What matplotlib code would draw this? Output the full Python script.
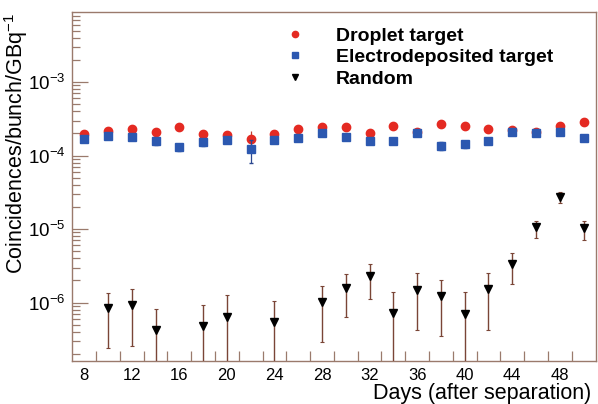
import numpy as np
import matplotlib
matplotlib.use("Agg")
import matplotlib.pyplot as plt
from matplotlib.ticker import FixedLocator, LogLocator, LogFormatterMathtext, NullFormatter
from matplotlib.lines import Line2D

plt.rcParams['font.family'] = ['Liberation Sans', 'DejaVu Sans']
plt.rcParams['mathtext.fontset'] = 'custom'
plt.rcParams['mathtext.rm'] = 'Liberation Sans'
plt.rcParams['mathtext.it'] = 'Liberation Sans:italic'
plt.rcParams['mathtext.bf'] = 'Liberation Sans:bold'
plt.rcParams['axes.unicode_minus'] = False

# ---------------- data ----------------
days = [8, 10, 12, 14, 16, 18, 20, 22, 24, 26, 28, 30, 32, 34, 36, 38, 40, 42, 44, 46, 48, 50]

droplet = [1.98e-4, 2.15e-4, 2.27e-4, 2.11e-4, 2.48e-4, 1.96e-4, 1.88e-4, 1.70e-4,
           1.98e-4, 2.32e-4, 2.45e-4, 2.42e-4, 2.02e-4, 2.53e-4, 2.12e-4, 2.67e-4,
           2.53e-4, 2.32e-4, 2.22e-4, 2.08e-4, 2.53e-4, 2.82e-4]
droplet_err = [0.10e-4, 0.10e-4, 0.10e-4, 0.10e-4, 0.10e-4, 0.10e-4, 0.20e-4, 0.43e-4,
               0.10e-4, 0.10e-4, 0.10e-4, 0.10e-4, 0.10e-4, 0.10e-4, 0.10e-4, 0.10e-4,
               0.10e-4, 0.10e-4, 0.10e-4, 0.10e-4, 0.10e-4, 0.10e-4]

electro = [1.68e-4, 1.84e-4, 1.80e-4, 1.56e-4, 1.30e-4, 1.52e-4, 1.62e-4, 1.22e-4,
           1.62e-4, 1.72e-4, 2.02e-4, 1.78e-4, 1.57e-4, 1.57e-4, 2.05e-4, 1.36e-4,
           1.42e-4, 1.59e-4, 2.11e-4, 2.05e-4, 2.09e-4, 1.74e-4]
electro_err = [0.15e-4, 0.15e-4, 0.15e-4, 0.15e-4, 0.15e-4, 0.15e-4, 0.15e-4, 0.42e-4,
               0.15e-4, 0.15e-4, 0.15e-4, 0.15e-4, 0.15e-4, 0.15e-4, 0.15e-4, 0.15e-4,
               0.15e-4, 0.15e-4, 0.15e-4, 0.15e-4, 0.15e-4, 0.15e-4]

rand_days = [10, 12, 14, 18, 20, 24, 28, 30, 32, 34, 36, 38, 40, 42, 44, 46, 48, 50]
rand_val = [0.84e-6, 0.93e-6, 0.43e-6, 0.48e-6, 0.64e-6, 0.545e-6, 1.02e-6, 1.60e-6,
            2.31e-6, 0.72e-6, 1.49e-6, 1.23e-6, 0.70e-6, 1.52e-6, 3.37e-6, 10.6e-6,
            27.0e-6, 10.3e-6]
rand_hi = [1.37e-6, 1.53e-6, 0.83e-6, 0.92e-6, 1.25e-6, 1.05e-6, 1.69e-6, 2.46e-6,
           3.37e-6, 1.38e-6, 2.51e-6, 2.04e-6, 1.38e-6, 2.49e-6, 4.71e-6, 13.0e-6,
           31.6e-6, 12.7e-6]
rand_lo = [0.238e-6, 0.26e-6, 1e-9, 1e-9, 1e-9, 1e-9, 0.29e-6, 0.64e-6,
           1.11e-6, 1e-9, 0.42e-6, 0.35e-6, 1e-9, 0.43e-6, 1.80e-6, 7.5e-6,
           22.7e-6, 7.2e-6]

xtick_labels = [8, 12, 16, 20, 24, 28, 32, 36, 40, 44, 48]
xminor_ticks = list(range(9, 50, 2))

# ---------------- figure ----------------
frame_col = '#9a7a6c'
fig = plt.figure(figsize=(5.98, 4.04), dpi=100)
ax = fig.add_axes([72.3 / 598, 1 - 360.7 / 404, (595.5 - 72.3) / 598, (360.7 - 12.3) / 404])
ax.set_yscale('log')

red = '#e42a22'
blue = '#2c58b0'

rv = np.array(rand_val)
yerr_r = [rv - np.array(rand_lo), np.array(rand_hi) - rv]
ax.errorbar(rand_days, rand_val, yerr=yerr_r, fmt='v', color='black', ms=5.5,
            ecolor='#7a4536', elinewidth=1.0, capsize=1.5, capthick=0.8, zorder=3)
ax.errorbar(days, droplet, yerr=droplet_err, fmt='o', color=red, ms=6,
            ecolor='#c04030', elinewidth=0.9, capsize=0, zorder=3)
ax.errorbar(days, electro, yerr=electro_err, fmt='s', color=blue, ms=5.6,
            ecolor='#2c4890', elinewidth=0.9, capsize=1.2, zorder=4)

ax.set_xlim(7, 51)
ax.set_ylim(1.62e-7, 8.9e-3)

# x ticks: labels at multiples of 4 (no marks), marks at odd days
ax.xaxis.set_major_locator(FixedLocator(xtick_labels))
ax.set_xticklabels([str(v) for v in xtick_labels])
ax.xaxis.set_minor_locator(FixedLocator(xminor_ticks))
ax.tick_params(axis='x', which='major', length=0, pad=5, labelsize=12)
ax.tick_params(axis='x', which='minor', direction='in', length=7.2, width=0.9,
               color=frame_col, top=False)

ax.yaxis.set_major_locator(LogLocator(base=10, numticks=20))
ax.yaxis.set_major_formatter(LogFormatterMathtext())
ax.yaxis.set_minor_locator(LogLocator(base=10, subs=np.arange(2, 10), numticks=20))
ax.yaxis.set_minor_formatter(NullFormatter())
ax.tick_params(axis='y', which='major', direction='in', length=11.5, width=0.9,
               color=frame_col, labelsize=13.5, pad=5, right=False)
ax.tick_params(axis='y', which='minor', direction='in', length=5.8, width=0.9,
               color=frame_col, right=False)

for s in ax.spines.values():
    s.set_color(frame_col)
    s.set_linewidth(1.0)

ax.set_ylabel(r'Coincidences/bunch/GBq$^{-1}$', fontsize=15.5)
ax.yaxis.label.set_horizontalalignment('right')
ax.yaxis.set_label_coords(-0.080, 1.0)

ax.set_xlabel('Days (after separation)', fontsize=15.5)
ax.xaxis.label.set_horizontalalignment('right')
ax.xaxis.label.set_verticalalignment('top')
ax.xaxis.set_label_coords(0.992, -0.063)

handles = [
    Line2D([], [], ls='none', marker='o', color=red, ms=4.5),
    Line2D([], [], ls='none', marker='s', color=blue, ms=4.2),
    Line2D([], [], ls='none', marker='v', color='black', ms=4.5),
]
labels = ['Droplet target', 'Electrodeposited target', 'Random']
leg = fig.legend(handles, labels, loc='upper left',
                 bbox_to_anchor=(285 / 598, 1 - 27 / 404), frameon=False,
                 prop={'weight': 'bold', 'size': 14}, handlelength=1.0,
                 handletextpad=1.6, labelspacing=0.2, borderpad=0, borderaxespad=0)

fig.savefig('out.png', dpi=100)
